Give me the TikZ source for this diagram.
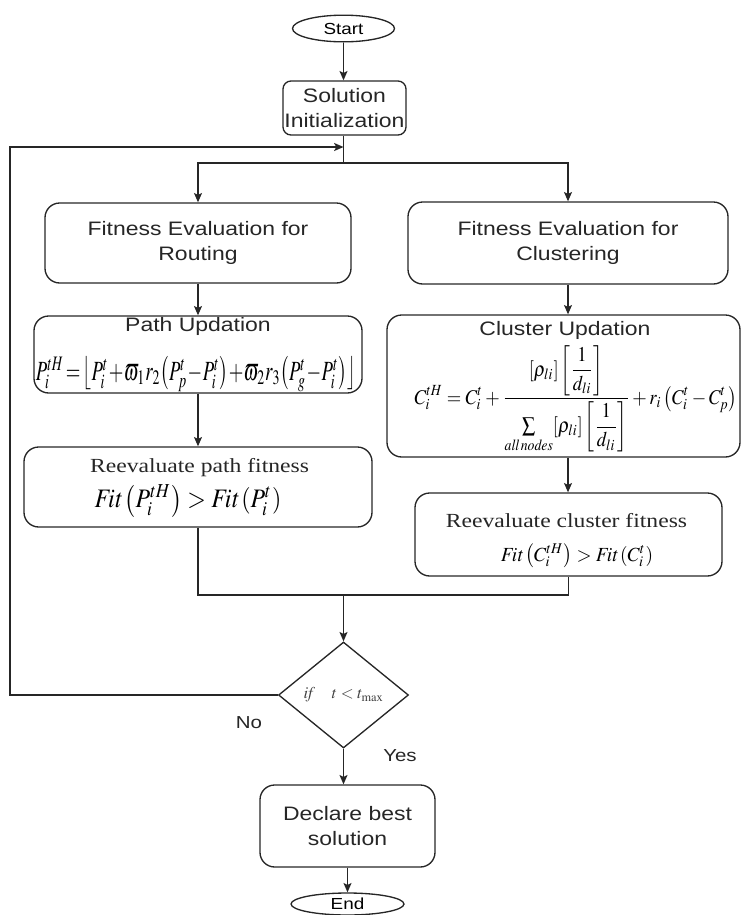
\documentclass[tikz,border=0pt]{standalone}
\usepackage{amsmath}
\usepackage{mathptmx}
\usepackage{fontspec}
\setmainfont[FakeStretch=1.18]{Liberation Sans}
\newfontfamily\serifface[FakeStretch=1.18]{Liberation Serif}
\usepackage{graphicx}
\usetikzlibrary{shapes.geometric,arrows.meta}
\begin{document}
\begin{tikzpicture}[x=0.75pt,y=-0.75pt,
  ink/.style={draw=black!85, line width=1pt},
  box/.style={ink, rounded corners=11pt, inner sep=0pt},
  term/.style={ink, ellipse, inner sep=0pt},
  lbl/.style={font=\fontsize{14.6}{18.75}\selectfont, text=black!85, align=center, inner sep=0pt},
  sertext/.style={font=\serifface\fontsize{15}{18}\selectfont, text=black!85, inner sep=0pt},
  arr/.style={ink, -{Stealth[length=7pt,width=6pt,inset=1.5pt]}},
  plain/.style={ink}]
\useasboundingbox (0,0) rectangle (742,915);

\node[term, minimum width=76.5pt, minimum height=20pt, font=\fontsize{12}{14}\selectfont] (start) at (343.5,28.5) {Start};
\node[box, rounded corners=6pt, minimum width=92.25pt, minimum height=40.5pt, lbl] (init) at (344.5,108) {Solution\\Initialization};
\draw[arr] (start.south) -- (start.south |- init.north);

\coordinate (split) at (343.5,163);
\coordinate (lin) at (343.5,147);
\draw[plain] (start.south |- init.south) -- (split);

\node[box, minimum width=229.5pt, minimum height=60pt, lbl] (fer) at (198,243) {Fitness Evaluation for\\Routing};
\node[box, minimum width=240pt, minimum height=61.5pt, lbl] (fec) at (568,243) {Fitness Evaluation for\\Clustering};
\draw[arr] (split) -| (fer.north);
\draw[arr] (split) -| (fec.north);

\node[box, minimum width=246pt, minimum height=57.75pt] (path) at (198,354.5) {};
\node[lbl, anchor=base] (pathT) at (198,331) {Path Updation};
\node[inner sep=0pt] (pathF) at (196,374) {\resizebox*{240pt}{26pt}{$P_i^{tH}\!=\!\left\lfloor P_i^t\!+\!\varpi_1 r_2\!\left(P_p^t\!-\!P_i^t\right)\!+\!\varpi_2 r_3\!\left(P_g^t\!-\!P_i^t\right)\right\rfloor$}};
\draw[arr] (fer.south) -- (path.north);

\node[box, minimum width=264.75pt, minimum height=106.5pt] (clu) at (563.5,386) {};
\node[lbl, anchor=base] (cluT) at (565,335) {Cluster Updation};
\node[inner sep=0pt] (cluF) at (576,399) {\resizebox*{242pt}{80pt}{$\displaystyle C_i^{tH}=C_i^t+\frac{[\rho_{li}]\left[\dfrac{1}{d_{li}}\right]}{\sum\limits_{\mathit{all\,nodes}}[\rho_{li}]\left[\dfrac{1}{d_{li}}\right]}+r_i\left(C_i^t-C_p^t\right)$}};
\draw[arr] (fec.south) -- (fec.south |- clu.north);

\node[box, minimum width=261pt, minimum height=60pt] (rp) at (198,487) {};
\node[sertext, anchor=base] (rpT) at (199.5,472) {Reevaluate path fitness};
\node[inner sep=0pt] (rpF) at (188,501) {\resizebox*{140pt}{24pt}{$\mathit{Fit}\left(P_i^{tH}\right)>\mathit{Fit}\left(P_i^t\right)$}};
\draw[arr] (path.south) -- (rp.north);

\node[box, minimum width=230.25pt, minimum height=62.25pt] (rc) at (568.5,534.5) {};
\node[sertext, anchor=base] (rcT) at (566.5,527) {Reevaluate cluster fitness};
\node[inner sep=0pt] (rcF) at (577,556) {\resizebox*{114pt}{18pt}{$\mathit{Fit}\left(C_i^{tH}\right)>\mathit{Fit}\left(C_i^t\right)$}};
\draw[arr] (fec.south |- clu.south) -- (fec.south |- rc.north);

\node[ink, diamond, aspect=1.226, minimum width=97.5pt, minimum height=79.5pt, inner sep=0pt, text=black!75] (dia) at (343.5,695) {\resizebox{60pt}{!}{$\mathit{if}\quad t<t_{\max}$}};

\coordinate (mL) at (198,595);
\coordinate (mR) at (568.5,595);
\coordinate (mC) at (343.5,595);
\draw[plain] (rp.south) -- (mL) -- (mR) -- (rc.south);
\draw[arr] (mC) -- (dia.north);

\coordinate (lc1) at (10,695);
\coordinate (lc2) at (10,147);
\draw[arr] (dia.west) -- (lc1) -- (lc2) -- (lin);

\node[lbl, font=\fontsize{13}{15}\selectfont] (no) at (249,723) {No};
\node[lbl, font=\fontsize{13}{15}\selectfont] (yes) at (400,756) {Yes};

\node[box, minimum width=131.25pt, minimum height=61.5pt, lbl] (best) at (347.5,826) {Declare best\\solution};
\draw[arr] (dia.south) -- (dia.south |- best.north);

\node[term, minimum width=84.75pt, minimum height=16.5pt, font=\fontsize{12}{14}\selectfont] (end) at (347.5,904) {End};
\draw[arr] (best.south) -- (end.north);
\end{tikzpicture}
\end{document}
